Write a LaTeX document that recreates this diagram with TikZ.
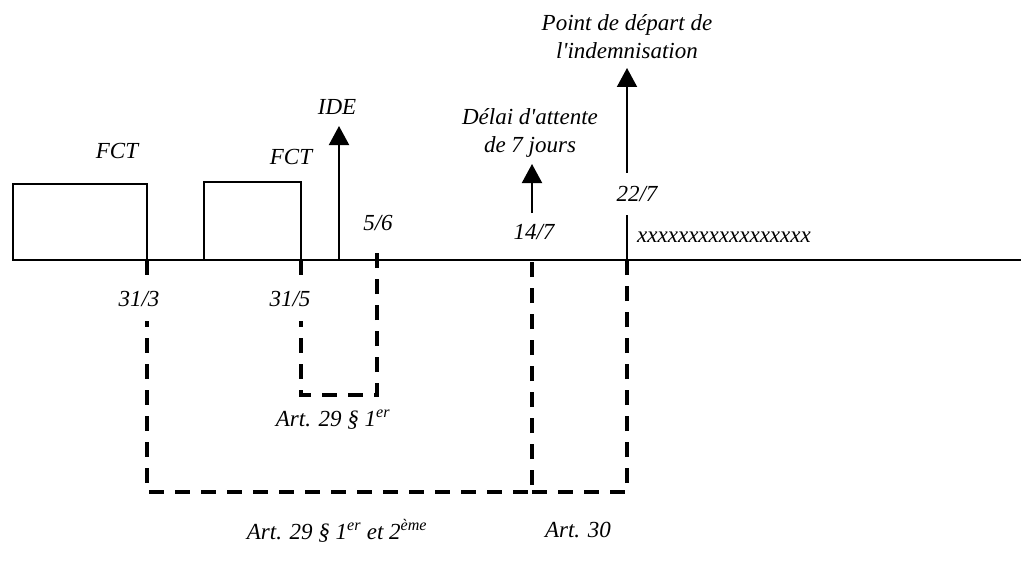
\documentclass[tikz,border=0pt]{standalone}
\usepackage{fontspec}
\setmainfont{Liberation Serif}
\usetikzlibrary{arrows.meta}
\begin{document}
\begin{tikzpicture}[x=1pt,y=-1pt,
  lbl/.style={font=\fontsize{23}{28}\selectfont\itshape, inner sep=0pt, align=center},
  cover/.style={lbl, fill=white, minimum height=44pt},
  boxline/.style={line width=2pt},
  axis/.style={line width=2.3pt},
  arr/.style={line width=2pt, -{Triangle[width=20pt,length=19pt]}},
  dashline/.style={line width=4pt, dash pattern=on 15pt off 11pt}]
\useasboundingbox (0,0) rectangle (1023,586);
% timeline
\coordinate (t0) at (12,260);
\coordinate (t1) at (1021,260);
\draw[axis] (t0) -- (t1);
% FCT boxes
\coordinate (b1a) at (13,260);  \coordinate (b1b) at (13,184);
\coordinate (b1c) at (147,184); \coordinate (b1d) at (147,260);
\coordinate (b2a) at (204,260); \coordinate (b2b) at (204,182);
\coordinate (b2c) at (301,182); \coordinate (b2d) at (301,260);
\draw[boxline] (b1a) -- (b1b) -- (b1c) -- (b1d);
\draw[boxline] (b2a) -- (b2b) -- (b2c) -- (b2d);
\node[lbl] (fct1) at (117,151) {FCT};
\node[lbl] (fct2) at (291,157) {FCT};
% dashed brackets
\coordinate (d1a) at (147,260); \coordinate (d1b) at (147,492);
\coordinate (d1c) at (532,492); \coordinate (d1d) at (532,260);
\coordinate (d2c) at (627,492); \coordinate (d2d) at (627,260);
\coordinate (d3a) at (301,260); \coordinate (d3b) at (301,395);
\coordinate (d3c) at (377,395); \coordinate (d3d) at (377,250);
\draw[dashline] (d1a) -- (d1b) -- (d1c) -- (d1d);
\draw[dashline] (d1c) -- (d2c) -- (d2d);
\draw[dashline] (d3a) -- (d3b) -- (d3c) -- (d3d);
% arrows
\coordinate (ideS) at (339,260); \coordinate (ideE) at (339,126);
\draw[arr] (ideS) -- (ideE);
\node[lbl] (ide) at (337,107) {IDE};
\coordinate (a14S) at (532,213); \coordinate (a14E) at (532,164);
\draw[arr] (a14S) -- (a14E);
\node[lbl] (delai) at (530,133) {Délai d\textquotesingle attente\\de 7 jours};
\coordinate (a22S) at (627,260); \coordinate (a22E) at (627,68);
\draw[arr] (a22S) -- (a22E);
\node[lbl] (depart) at (627,37) {Point de départ de\\l\textquotesingle indemnisation};
% date labels
\node[cover] (l313) at (139,299) {31/3};
\node[cover] (l315) at (290,299) {31/5};
\node[lbl] (l56) at (378,223) {5/6};
\node[lbl] (l147) at (534,232) {14/7};
\node[cover, minimum height=42pt] (l227) at (637,194) {22/7};
\node[lbl, anchor=west] (xx) at (637,237) {xxxxxxxxxxxxxxxxx};
% article labels
\node[lbl] (art1) at (333,420) {Art. 29 § 1\textsuperscript{er}};
\node[lbl] (art2) at (337,531) {Art. 29 § 1\textsuperscript{er} et 2\textsuperscript{ème}};
\node[lbl] (art30) at (578,530) {Art. 30};
\end{tikzpicture}
\end{document}
